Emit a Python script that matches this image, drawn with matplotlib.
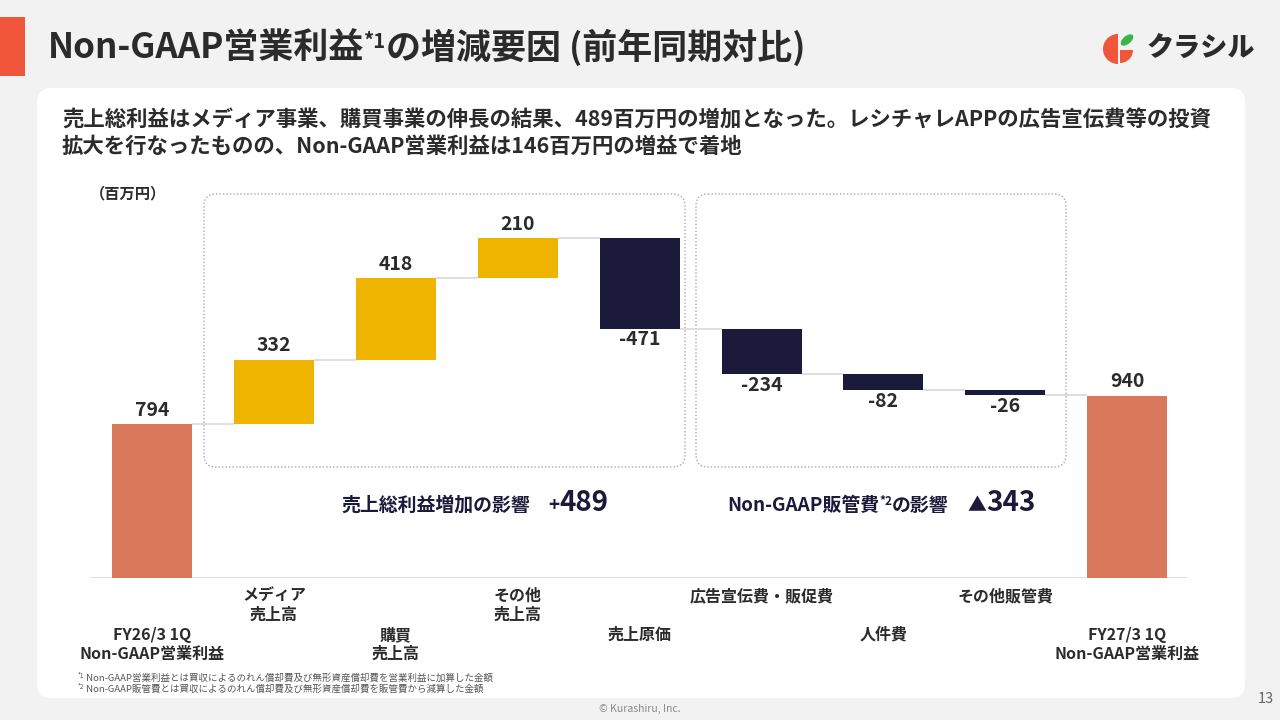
import matplotlib
matplotlib.use('Agg')
import matplotlib.pyplot as plt
import matplotlib.transforms as mtransforms
from matplotlib.patches import FancyBboxPatch, Rectangle, Wedge, Ellipse
import numpy as np

FONT = ['Noto Sans CJK JP', 'DejaVu Sans']
plt.rcParams['font.family'] = FONT

# ---------------- data ----------------
categories = [
    "FY26/3 1Q\nNon-GAAP営業利益",
    "メディア\n売上高",
    "購買\n売上高",
    "その他\n売上高",
    "売上原価",
    "広告宣伝費・販促費",
    "人件費",
    "その他販管費",
    "FY27/3 1Q\nNon-GAAP営業利益",
]
start_value = 794
deltas = [332, 418, 210, -471, -234, -82, -26]
end_value = 940
gross_profit_effect = "489"
sga_effect = "343"

title_main = "Non-GAAP営業利益"
title_rest = "の増減要因 (前年同期対比)"
subtitle_1 = "売上総利益はメディア事業、購買事業の伸長の結果、489百万円の増加となった。レシチャレAPPの広告宣伝費等の投資"
subtitle_2 = "拡大を行なったものの、Non-GAAP営業利益は146百万円の増益で着地"
unit_label = "（百万円）"
footnote_1 = ("*1", " Non-GAAP営業利益とは買収によるのれん償却費及び無形資産償却費を営業利益に加算した金額")
footnote_2 = ("*2", " Non-GAAP販管費とは買収によるのれん償却費及び無形資産償却費を販管費から減算した金額")

# ---------------- colours ----------------
BG = '#f2f2f2'
TXT = '#2b2b2b'
NAVY = '#1b1a3a'
YELLOW = '#efb400'
ORANGE = '#d9785a'
ACCENT = '#f0563a'

W, H = 1280, 720
fig = plt.figure(figsize=(12.8, 7.2), dpi=100)
fig.patch.set_facecolor(BG)
bg = fig.add_axes([0, 0, 1, 1])
bg.set_xlim(0, W)
bg.set_ylim(H, 0)
bg.axis('off')
renderer = fig.canvas.get_renderer()


def runs(x, y, parts, color, weight='bold'):
    """parts: (text, fontsize, raise_px)"""
    for txt, size, dy in parts:
        t = bg.text(x, y - dy, txt, fontsize=size, color=color,
                    fontweight=weight, va='baseline', ha='left')
        x += t.get_window_extent(renderer).width
    return x


# card
bg.add_patch(FancyBboxPatch((37, 88), 1208, 610,
                            boxstyle='round,pad=0,rounding_size=14',
                            fc='white', ec='none'))
# title accent
bg.add_patch(Rectangle((0, 17), 25, 59, fc=ACCENT, ec='none'))

# title
runs(48, 59, [(title_main, 25.2, 0), ("*1", 14.5, 11), (title_rest, 25.2, 0)], TXT)

# logo
bg.add_patch(Wedge((1118, 49), 15, 90, 270, fc=ACCENT, ec='none'))
bg.add_patch(Wedge((1120, 50), 13, 0, 90, fc=ACCENT, ec='none'))
bg.add_patch(Ellipse((1127, 40), 15, 8, angle=-40, fc='#3bb54a', ec='none'))
bg.text(1147, 57, "クラシル", fontsize=19.5, fontweight='heavy', color=TXT,
        va='baseline', ha='left')

# subtitle
bg.text(62, 127, subtitle_1, fontsize=15.4, fontweight='bold', color=TXT,
        va='baseline', ha='left')
bg.text(62, 153, subtitle_2, fontsize=15.4, fontweight='bold', color=TXT,
        va='baseline', ha='left')

# unit
bg.text(90, 193, unit_label, fontsize=11, fontweight='bold', color=TXT,
        va='center', ha='left')

# dotted group boxes
for (x0, x1) in [(204, 685), (696, 1066)]:
    bg.add_patch(FancyBboxPatch((x0, 194), x1 - x0, 273,
                                boxstyle='round,pad=0,rounding_size=12',
                                fc='none', ec='#a8a8a8', lw=1.0, ls=(0, (1, 1.5))))

# group effect annotations
runs(341, 511, [("売上総利益増加の影響", 13.6, 0), ("　", 13.6, 0),
                ("+", 13.5, 0), (gross_profit_effect, 20, 0)], NAVY)
runs(727, 511, [("Non-GAAP販管費", 13.6, 0), ("*2", 8.5, 6), ("の影響", 13.6, 0),
                ("　", 13.6, 0), ("▲", 13.6, 0), (sga_effect, 20, 0)], NAVY)

# footnotes
for (sup, body), yb in zip([footnote_1, footnote_2], [681, 692]):
    runs(78, yb, [(sup, 4.5, 3), (body, 6.8, 0)], '#555555', weight='normal')

# copyright & page
bg.text(640, 709, "© Kurashiru, Inc.", fontsize=7.5, color='#8a8a8a',
        ha='center', va='center')
bg.text(1266, 699, "13", fontsize=10.5, color='#666666', ha='center', va='center')

# ---------------- chart ----------------
ax = fig.add_axes([90 / W, 1 - 578 / H, 1097 / W, (578 - 190) / H])
ax.patch.set_alpha(0)
ax.set_xlim(-0.509, 8.49)
ax.set_ylim(0, 2000)
ax.axis('off')

n = len(categories)
x = np.arange(n)
bw = 0.656

bottoms, heights, colors, labels, levels = [], [], [], [], []
bottoms.append(0); heights.append(start_value); colors.append(ORANGE)
labels.append(str(start_value)); levels.append(start_value)
cum = start_value
for d in deltas:
    bottoms.append(min(cum, cum + d))
    heights.append(abs(d))
    colors.append(YELLOW if d > 0 else NAVY)
    labels.append(str(d))
    cum += d
    levels.append(cum)
bottoms.append(0); heights.append(end_value); colors.append(ORANGE)
labels.append(str(end_value)); levels.append(end_value)

ax.bar(x, heights, bottom=bottoms, width=bw, color=colors, zorder=3)
ax.axhline(0, color='#dcdcdc', lw=1.3, zorder=1)

# connectors
for i in range(n - 1):
    ax.plot([x[i] + bw / 2, x[i + 1] - bw / 2], [levels[i], levels[i]],
            color='#d9d9d9', lw=1.2, zorder=2, solid_capstyle='butt')

# value labels
for i in range(n):
    top = bottoms[i] + heights[i]
    is_neg = 0 < i < n - 1 and deltas[i - 1] < 0
    if is_neg:
        ax.annotate(labels[i], (x[i], bottoms[i]), xytext=(0, -1),
                    textcoords='offset points', ha='center', va='top',
                    fontsize=14, fontweight='bold', color=TXT)
    else:
        ax.annotate(labels[i], (x[i], top), xytext=(0, 3),
                    textcoords='offset points', ha='center', va='bottom',
                    fontsize=14, fontweight='bold', color=TXT)

# category labels (two staggered rows)
trans = mtransforms.blended_transform_factory(ax.transData, bg.transData)
for i, lab in enumerate(categories):
    ytop = 588 if i % 2 == 1 else 627
    ax.text(x[i], ytop, lab, transform=trans, ha='center', va='top',
            fontsize=11.5, fontweight='bold', color=TXT, linespacing=1.2,
            multialignment='center', clip_on=False)

fig.savefig('out.png', dpi=100, facecolor=BG)
